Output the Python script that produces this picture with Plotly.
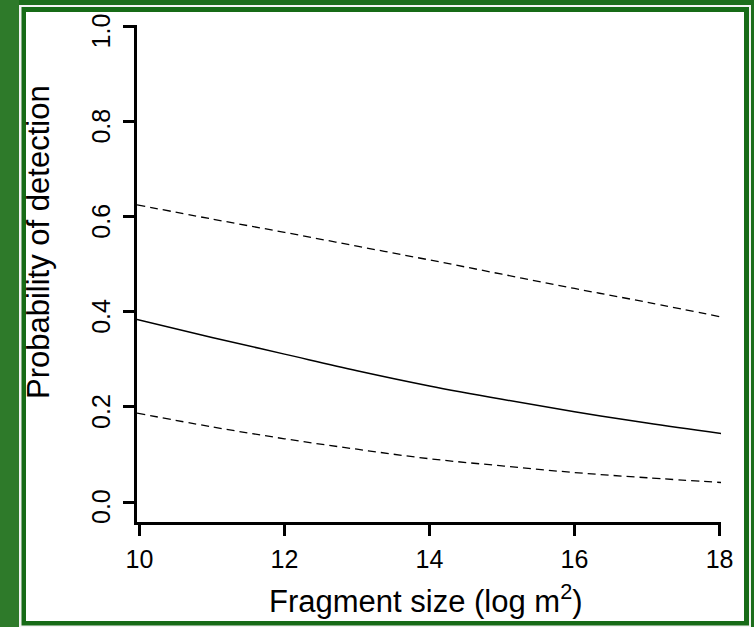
import plotly.graph_objects as go

# Data
x_vals = [9.966, 11, 12, 13, 14, 15, 16, 17, 18.03]
p_mean = [0.384, 0.346, 0.311, 0.276, 0.244, 0.216, 0.190, 0.166, 0.144]
p_upper = [0.625, 0.595, 0.567, 0.538, 0.509, 0.479, 0.449, 0.420, 0.389]
p_lower = [0.187, 0.158, 0.133, 0.111, 0.091, 0.076, 0.062, 0.051, 0.041]

x_ticks = [10, 12, 14, 16, 18]
y_ticks = [0.0, 0.2, 0.4, 0.6, 0.8, 1.0]
y_tick_text = ["0.0", "0.2", "0.4", "0.6", "0.8", "1.0"]

W, H = 754, 627
L, R, T, B = 137, 33, 25, 105
PW, PH = W - L - R, H - T - B


def px2x(px):
    return (px - L) / PW


def py2y(py):
    return (H - B - py) / PH


FONT = "Liberation Sans, Arial, sans-serif"

fig = go.Figure()
fig.add_trace(go.Scatter(x=x_vals, y=p_upper, mode="lines", line=dict(color="black", width=1.3, dash="8px,5px", shape="spline"), hoverinfo="skip"))
fig.add_trace(go.Scatter(x=x_vals, y=p_mean, mode="lines", line=dict(color="black", width=1.5, shape="spline"), hoverinfo="skip"))
fig.add_trace(go.Scatter(x=x_vals, y=p_lower, mode="lines", line=dict(color="black", width=1.3, dash="8px,5px", shape="spline"), hoverinfo="skip"))

shapes = [
    # light-green left strip
    dict(type="rect", xref="paper", yref="paper", x0=px2x(0), x1=px2x(19), y0=py2y(627), y1=py2y(0),
         fillcolor="#2e7a2a", line_width=0, layer="below"),
    # white thin outline
    dict(type="rect", xref="paper", yref="paper", x0=px2x(19), x1=px2x(751), y0=py2y(627), y1=py2y(5),
         fillcolor="#f4f4f4", line_width=0, layer="below"),
    # green inner border
    dict(type="rect", xref="paper", yref="paper", x0=px2x(21.5), x1=px2x(749), y0=py2y(625.5), y1=py2y(7),
         fillcolor="#176b17", line_width=0, layer="below"),
    # white panel
    dict(type="rect", xref="paper", yref="paper", x0=px2x(26), x1=px2x(744), y0=py2y(621), y1=py2y(12),
         fillcolor="white", line_width=0, layer="below"),
]

annotations = [
    dict(text="Probability of detection", xref="paper", yref="paper", x=px2x(38), y=py2y(242),
         xanchor="center", yanchor="middle", textangle=-90, showarrow=False,
         font=dict(family=FONT, size=31, color="black")),
    dict(text="Fragment size (log m<sup>2</sup>)", xref="paper", yref="paper", x=px2x(426), y=py2y(599),
         xanchor="center", yanchor="middle", showarrow=False,
         font=dict(family=FONT, size=31, color="black")),
]
# y tick labels (rotated, as in the reference), placed on the y axis scale
for v, t in zip(y_ticks, y_tick_text):
    annotations.append(dict(text=t, xref="paper", yref="y", x=px2x(101), y=v, yshift=-5,
                            xanchor="center", yanchor="middle", textangle=-90, showarrow=False,
                            font=dict(family=FONT, size=25, color="black")))

fig.update_layout(
    width=W, height=H,
    margin=dict(l=L, r=R, t=T, b=B, pad=0, autoexpand=False),
    paper_bgcolor="#1d6e1c",
    plot_bgcolor="white",
    showlegend=False,
    shapes=shapes,
    annotations=annotations,
    font=dict(family=FONT, color="black"),
)
fig.update_xaxes(
    range=[9.966, 18.02], tickvals=x_ticks, ticktext=[str(v) for v in x_ticks],
    showline=True, linecolor="black", linewidth=2.5, showgrid=False, zeroline=False,
    ticks="outside", ticklen=11, tickwidth=2.5, tickcolor="black",
    tickfont=dict(family=FONT, size=25, color="black"), ticklabelstandoff=2,
    automargin=False,
)
fig.update_yaxes(
    range=[-0.042, 1.003], tickvals=y_ticks, showticklabels=False,
    showline=True, linecolor="black", linewidth=2.5, showgrid=False, zeroline=False,
    ticks="outside", ticklen=11, tickwidth=2.5, tickcolor="black",
    automargin=False,
)

fig.write_html(
    "out.html",
    config={"displayModeBar": False},
    post_script="document.body.style.margin='0';document.body.style.padding='0';document.body.style.overflow='hidden';",
)
